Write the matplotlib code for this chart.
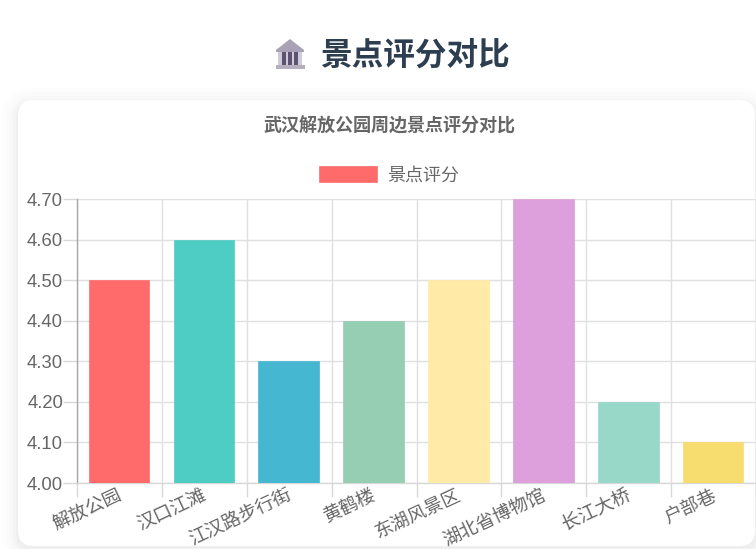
import numpy as np
import matplotlib
matplotlib.use("Agg")
import matplotlib.pyplot as plt
from matplotlib.patches import FancyBboxPatch, Polygon, Rectangle
from matplotlib.transforms import ScaledTranslation

plt.rcParams['font.family'] = ['Liberation Sans', 'Noto Sans CJK SC', 'DejaVu Sans']

# Data
spots = ["解放公园", "汉口江滩", "江汉路步行街", "黄鹤楼", "东湖风景区", "湖北省博物馆", "长江大桥", "户部巷"]
ratings = [4.5, 4.6, 4.3, 4.4, 4.5, 4.7, 4.2, 4.1]
colors = ["#FF6B6B", "#4ECDC4", "#45B7D1", "#96CEB4", "#FFEAA7", "#DDA0DD", "#98D8C8", "#F7DC6F"]
y_ticks = [4.0, 4.1, 4.2, 4.3, 4.4, 4.5, 4.6, 4.7]

W, H = 756, 549
fig = plt.figure(figsize=(W / 100, H / 100), dpi=100, facecolor="white")

# Background layer in pixel coordinates: card, shadow, icon
bg = fig.add_axes([0, 0, 1, 1], zorder=0)
bg.set_xlim(0, W)
bg.set_ylim(H, 0)
bg.axis("off")

for grow, alpha in [(16, 0.006), (12, 0.008), (8, 0.012), (5, 0.014), (2, 0.018)]:
    bg.add_patch(FancyBboxPatch((18 - grow, 100 - grow + 4), 737 + 2 * grow, 446 + 2 * grow,
                                boxstyle="round,pad=0,rounding_size=%d" % (16 + grow),
                                fc="black", ec="none", alpha=alpha))
bg.add_patch(FancyBboxPatch((18, 100), 737, 446, boxstyle="round,pad=0,rounding_size=16",
                            fc="white", ec="none"))

# Museum icon
bg.add_patch(Polygon([[276, 50], [290, 39], [304, 50], [304, 52], [276, 52]], fc="#a9a2b6", ec="none"))
bg.add_patch(Rectangle((278, 52), 24, 14, fc="#cfcbd8", ec="none"))
for x in [282, 288, 294]:
    bg.add_patch(Rectangle((x, 52), 3.5, 14, fc="#5d5370", ec="none"))
bg.add_patch(Rectangle((275.5, 65), 29, 4, fc="#b5afc0", ec="none"))

fig.text(415, H - 56, "景点评分对比", transform=None, ha="center", va="center",
         fontsize=22.8, fontweight="bold", color="#2c3e50")
fig.text(389, H - 126, "武汉解放公园周边景点评分对比", transform=None, ha="center", va="center",
         fontsize=13, fontweight="bold", color="#666666")

# Chart
ax = fig.add_axes([77 / W, 1 - 483 / H, (W - 77) / W, (483 - 199) / H], zorder=1)
ax.patch.set_alpha(0)
x = np.arange(len(spots))
ax.bar(x - 0.005, ratings, width=0.715, color=colors, edgecolor=colors, linewidth=0.5,
       label="景点评分", zorder=3)
ax.set_xlim(-0.5, len(spots) - 0.5)
ax.set_ylim(4.0, 4.7)

ax.set_yticks(y_ticks)
ax.set_yticklabels(["%.2f" % v for v in y_ticks])
ax.set_xticks(np.arange(len(spots) + 1) - 0.5)
ax.set_xticklabels([])
ax.set_xticks(x, minor=True)
ax.set_xticklabels(spots, minor=True, rotation=25, ha="right", rotation_mode="anchor")

ax.grid(True, which="major", color="#e0e0e0", linewidth=1.0, zorder=0)
ax.tick_params(axis="both", which="major", length=10, width=1.0, color="#d8d8d8",
               labelsize=13.3, labelcolor="#666666", pad=0)
ax.tick_params(axis="x", which="minor", length=0, labelsize=13.3, labelcolor="#666666", pad=3)

# nudge the rotated labels left a little
shift = ScaledTranslation(-2 / 100, 0, fig.dpi_scale_trans)
for lab in ax.get_xticklabels(minor=True):
    lab.set_transform(lab.get_transform() + shift)

for side in ["top", "right"]:
    ax.spines[side].set_visible(False)
ax.spines["left"].set_color("#a8a8a8")
ax.spines["left"].set_linewidth(1.0)
ax.spines["bottom"].set_color("#d8d8d8")
ax.spines["bottom"].set_linewidth(1.0)

ax.legend(loc="center", bbox_to_anchor=((389 - 77) / (W - 77), (483 - 175) / (483 - 199)),
          frameon=False, fontsize=13, labelcolor="#666666", handlelength=3.2,
          handleheight=1.05, handletextpad=0.55, borderpad=0, borderaxespad=0)

fig.savefig("out.png", dpi=100)
